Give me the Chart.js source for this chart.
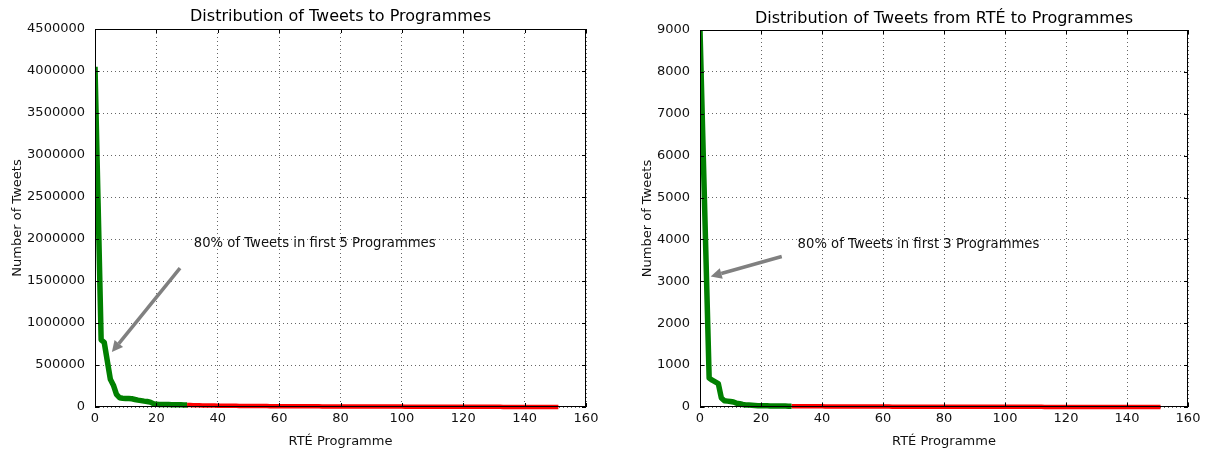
<!DOCTYPE html>
<html lang="en">
<head>
<meta charset="UTF-8">
<title>Distribution of Tweets to Programmes</title>
<script src="https://cdn.jsdelivr.net/npm/chart.js"></script>
<style>
  body { margin: 0; background: #fff; }
  .panel { position: absolute; top: 0; width: 603px; height: 451px; }
</style>
</head>
<body>
<div class="panel" style="left:0"><canvas id="allChart"></canvas></div>
<div class="panel" style="left:603px"><canvas id="rteChart"></canvas></div>
<script>
// programmes are ranked 0..151, the first 31 (up to index 30) are drawn green
const splitAt = 30;

// tweets per programme, all tweets
const tweetsAll = [
  4050000, 2430000, 800000, 770000, 550000, 330000, 260000, 150000, 110000, 105000,
  102000, 100000, 98000, 90000, 82000, 76000, 70000, 65000, 58000, 40000,
  32000, 31000, 30000, 29000, 28500, 28000, 27000, 26000, 25500, 25000,
  24000, 23000, 22000, 21000, 20000, 19000, 18500, 18000, 17000, 16500,
  16000, 15500, 15000, 14800, 14500, 14000, 13600, 13200, 12900, 12500,
  12200, 12000, 11700, 11400, 11100, 10900, 10600, 10400, 10200, 10000,
  9800, 9600, 9400, 9200, 9000, 8800, 8600, 8500, 8300, 8100,
  8000, 7800, 7700, 7500, 7400, 7200, 7100, 7000, 6800, 6700,
  6600, 6400, 6300, 6200, 6100, 6000, 5900, 5800, 5700, 5600,
  5500, 5400, 5300, 5200, 5100, 5000, 4900, 4800, 4700, 4600,
  4500, 4400, 4300, 4200, 4100, 4000, 3900, 3800, 3700, 3600,
  3500, 3400, 3300, 3200, 3100, 3000, 2900, 2850, 2800, 2700,
  2600, 2500, 2400, 2300, 2200, 2100, 2000, 1950, 1900, 1800,
  1700, 1600, 1500, 1400, 1300, 1200, 1100, 1000, 950, 900,
  850, 800, 700, 600, 500, 400, 300, 200, 150, 100,
  50, 20
];

// tweets per programme from RTÉ accounts (right plot)
const tweetsRte = [
  9000, 6200, 3450, 690, 640, 600, 560, 215, 150, 140,
  130, 120, 90, 80, 60, 50, 45, 40, 36, 32,
  30, 28, 27, 26, 25, 24, 23, 22, 21, 20,
  20, 19, 19, 18, 18, 17, 17, 16, 16, 15,
  15, 14, 14, 14, 13, 13, 13, 12, 12, 12,
  11, 11, 11, 11, 10, 10, 10, 10, 9, 9,
  9, 9, 9, 8, 8, 8, 8, 8, 7, 7,
  7, 7, 7, 7, 7, 6, 6, 6, 6, 6,
  6, 6, 5, 5, 5, 5, 5, 5, 5, 5,
  5, 4, 4, 4, 4, 4, 4, 4, 4, 4,
  4, 3, 3, 3, 3, 3, 3, 3, 3, 3,
  3, 3, 3, 2, 2, 2, 2, 2, 2, 2,
  2, 2, 2, 2, 2, 2, 2, 2, 2, 2,
  2, 1, 1, 1, 1, 1, 1, 1, 1, 1,
  1, 1, 1, 1, 1, 1, 1, 1, 1, 1,
  1, 1
];

const programmes = tweetsAll.map((_, i) => i);

const FONT = 'DejaVu Sans';

// frame, inward ticks, title and the annotation arrow
const decor = {
  id: 'decor',
  afterDraw(chart, args, o) {
    const { ctx, chartArea: a, scales: { x, y } } = chart;
    ctx.save();
    ctx.strokeStyle = '#000';
    ctx.lineWidth = 1;
    ctx.beginPath();
    x.ticks.forEach(t => {
      const px = Math.round(x.getPixelForValue(t.value)) + 0.5;
      ctx.moveTo(px, a.bottom); ctx.lineTo(px, a.bottom - 4);
      ctx.moveTo(px, a.top); ctx.lineTo(px, a.top + 4);
    });
    y.ticks.forEach(t => {
      const py = Math.round(y.getPixelForValue(t.value)) + 0.5;
      ctx.moveTo(a.left, py); ctx.lineTo(a.left + 4, py);
      ctx.moveTo(a.right, py); ctx.lineTo(a.right - 4, py);
    });
    ctx.stroke();
    ctx.strokeRect(a.left + 0.5, a.top + 0.5, a.width - 1, a.height - 1);

    // title above the axes
    ctx.fillStyle = '#000';
    ctx.font = '16px "' + FONT + '"';
    ctx.textAlign = 'center';
    ctx.textBaseline = 'middle';
    ctx.fillText(o.title, (a.left + a.right) / 2, o.titleY);

    // arrow
    const tx = x.getPixelForValue(o.tail[0]), ty = y.getPixelForValue(o.tail[1]);
    const hx = x.getPixelForValue(o.head[0]), hy = y.getPixelForValue(o.head[1]);
    const ang = Math.atan2(hy - ty, hx - tx);
    const hl = 11, hw = 5.5;
    const bx = hx - hl * Math.cos(ang), by = hy - hl * Math.sin(ang);
    ctx.strokeStyle = '#808080';
    ctx.fillStyle = '#808080';
    ctx.lineWidth = 3.5;
    ctx.beginPath();
    ctx.moveTo(tx, ty); ctx.lineTo(bx, by);
    ctx.stroke();
    ctx.beginPath();
    ctx.moveTo(hx, hy);
    ctx.lineTo(bx + hw * Math.sin(ang), by - hw * Math.cos(ang));
    ctx.lineTo(bx - hw * Math.sin(ang), by + hw * Math.cos(ang));
    ctx.closePath();
    ctx.fill();

    ctx.fillStyle = '#111';
    ctx.font = '13.2px "' + FONT + '"';
    ctx.textAlign = 'left';
    ctx.fillText(o.text, x.getPixelForValue(o.textAt[0]), y.getPixelForValue(o.textAt[1]));
    ctx.restore();
  }
};

function makeChart(id, values, cfg) {
  const pts = values.map((v, i) => ({ x: programmes[i], y: v }));
  const tickFont = { family: FONT, size: 13 };
  const clip = { left: 0, right: 6, bottom: 6, top: 0 };
  return new Chart(document.getElementById(id), {
    type: 'line',
    data: {
      datasets: [
        { data: pts.slice(0, splitAt + 1), borderColor: '#008000', borderWidth: 5.5, clip },
        { data: pts.slice(splitAt), borderColor: '#ff0000', borderWidth: 4.5, clip }
      ]
    },
    options: {
      responsive: true,
      maintainAspectRatio: false,
      animation: false,
      layout: { padding: { top: cfg.top, right: cfg.right, left: 0, bottom: 0 } },
      elements: {
        point: { radius: 0 },
        line: { tension: 0, borderJoinStyle: 'round', borderCapStyle: 'butt' }
      },
      plugins: {
        legend: { display: false },
        tooltip: { enabled: false },
        decor: cfg.decor
      },
      scales: {
        x: {
          type: 'linear', min: 0, max: 160,
          ticks: { stepSize: 20, color: '#111', font: tickFont, padding: 4, maxRotation: 0 },
          grid: { color: 'rgba(0,0,0,0.6)', lineWidth: 1, drawTicks: false },
          border: { display: false, dash: [1, 3] },
          title: { display: true, text: 'RTÉ Programme', color: '#111', font: tickFont, padding: { top: 0, bottom: 2 } },
          afterFit: s => { s.height = 44; }
        },
        y: {
          min: 0, max: cfg.yMax,
          ticks: { stepSize: cfg.yStep, color: '#111', font: tickFont, padding: 10, callback: v => String(v) },
          grid: { color: 'rgba(0,0,0,0.6)', lineWidth: 1, drawTicks: false },
          border: { display: false, dash: [1, 3] },
          title: { display: true, text: 'Number of Tweets', color: '#111', font: tickFont, padding: { top: cfg.yTitlePad, bottom: 0 } },
          afterFit: s => { s.width = cfg.yWidth; }
        }
      }
    },
    plugins: [decor]
  });
}

makeChart('allChart', tweetsAll, {
  top: 29, right: 17, yMax: 4500000, yStep: 500000, yWidth: 95, yTitlePad: 10,
  decor: {
    title: 'Distribution of Tweets to Programmes', titleY: 17,
    text: '80% of Tweets in first 5 Programmes', textAt: [32.2, 1943000],
    tail: [27.7, 1653000], head: [5.5, 654000]
  }
});

makeChart('rteChart', tweetsRte, {
  top: 30, right: 18, yMax: 9000, yStep: 1000, yWidth: 97, yTitlePad: 37,
  decor: {
    title: 'Distribution of Tweets from RTÉ to Programmes', titleY: 19,
    text: '80% of Tweets in first 3 Programmes', textAt: [32.0, 3873],
    tail: [26.8, 3594], head: [3.5, 3117]
  }
});
</script>
</body>
</html>
